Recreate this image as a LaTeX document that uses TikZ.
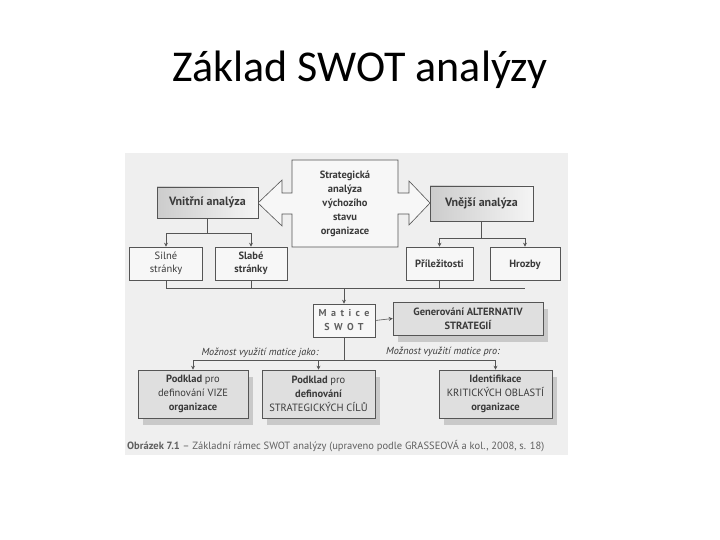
\documentclass[tikz,border=0pt]{standalone}
\usepackage{fontspec}
\setmainfont{PT Sans}
\newfontfamily\titlefont{Carlito}
\usetikzlibrary{arrows.meta,shadows}
\definecolor{scanbg}{HTML}{EFEFEF}
\definecolor{boxbg}{HTML}{F7F7F7}
\definecolor{ink}{HTML}{3A3A3A}
\definecolor{lines}{HTML}{555555}
\tikzset{
  box/.style={draw=lines, line width=0.6pt, fill=boxbg, inner sep=0pt, align=center, text=ink, font=\fontsize{10.5}{13}\selectfont},
  boldbox/.style={box, font=\bfseries\fontsize{10.5}{13}\selectfont},
  grad/.style={boldbox, left color=gray!40, right color=gray!8, font=\bfseries\fontsize{12}{14}\selectfont},
  shad/.style={box, fill=gray!25, drop shadow={shadow xshift=5pt, shadow yshift=-7pt, fill=gray!42, opacity=1}, font=\fontsize{10.5}{14}\selectfont},
  conn/.style={draw=lines, line width=0.6pt},
  arr/.style={conn, -{Stealth[length=4pt,width=4pt]}},
  lbl/.style={text=ink, font=\fontsize{10.2}{12}\selectfont\itshape, inner sep=0pt}
}
\begin{document}
\begin{tikzpicture}[x=1pt,y=-1pt]
\useasboundingbox (0,0) rectangle (720,540);
\node[font=\titlefont\fontsize{44}{50}\selectfont, anchor=base, inner sep=0pt] (title) at (360,82) {Základ SWOT analýzy};
\fill[scanbg] (125,153) rectangle (568,455);
% central double arrow shape
\draw[lines, line width=0.6pt, fill=boxbg] (292,160) -- (398,160) -- (398,193) -- (409,193) -- (409,181) -- (430,203) -- (409,225) -- (409,214) -- (398,214) -- (398,247) -- (292,247) -- (292,214) -- (282,214) -- (282,226) -- (258,203) -- (282,180) -- (282,193) -- (292,193) -- cycle;
\node[box, draw=none, fill=none, font=\bfseries\fontsize{10.5}{14}\selectfont] (strat) at (345,203.5) {Strategická\\analýza\\výchozího\\stavu\\organizace};
\node[grad, minimum width=101pt, minimum height=31pt] (vnitrni) at (207.5,202.5) {Vnitřní analýza};
\node[grad, minimum width=103pt, minimum height=35pt] (vnejsi) at (481.5,203.5) {Vnější analýza};
\node[box, minimum width=73pt, minimum height=33pt] (silne) at (166,263.5) {Silné\\stránky};
\node[boldbox, minimum width=72pt, minimum height=33pt] (slabe) at (251,263.5) {Slabé\\stránky};
\node[boldbox, minimum width=67pt, minimum height=33pt, text depth=0pt] (prilez) at (439.5,263.5) {Příležitosti};
\node[boldbox, minimum width=70pt, minimum height=33pt, text depth=0pt] (hrozby) at (525,263.5) {Hrozby};
\node[box, minimum width=62pt, minimum height=33pt, text=gray!75!black, font=\bfseries\addfontfeature{LetterSpace=45}\fontsize{10}{14}\selectfont] (matice) at (344,320.5) {Matice\\SWOT};
\node[shad, minimum width=150pt, minimum height=33pt, font=\bfseries\fontsize{10.5}{14}\selectfont] (gener) at (468,318.5) {Generování ALTERNATIV\\STRATEGIÍ};
\node[shad, minimum width=110pt, minimum height=48pt] (vize) at (193,394) {\textbf{Podklad} pro\\definování VIZE\\\textbf{organizace}};
\node[shad, minimum width=113pt, minimum height=48pt] (cile) at (318.5,394) {\textbf{Podklad} pro\\\textbf{definování}\\STRATEGICKÝCH CÍLŮ};
\node[shad, minimum width=113pt, minimum height=48pt] (ident) at (495.5,394) {\textbf{Identifikace}\\KRITICKÝCH OBLASTÍ\\\textbf{organizace}};
% labels
\node[lbl] (lab1) at (260,353) {Možnost využití matice jako:};
\node[lbl] (lab2) at (443,352) {Možnost využití matice pro:};
% caption
\node[anchor=base west, inner sep=0pt, text=gray!75!black, font=\fontsize{10.5}{12}\selectfont] (cap) at (127,449) {\textbf{Obrázek 7.1} – Základní rámec SWOT analýzy (upraveno podle GRASSEOVÁ a kol., 2008, s. 18)};
% connectors
\coordinate (j1) at (vnitrni.south |- 0,233);
\draw[conn] (vnitrni.south) -- (j1);
\draw[arr] (j1) -| (silne.north);
\draw[arr] (j1) -| (slabe.north);
\coordinate (j2) at (vnejsi.south |- 0,238);
\draw[conn] (vnejsi.south) -- (j2);
\draw[arr] (j2) -| (prilez.north);
\draw[arr] (j2) -| (hrozby.north);
\coordinate (b1) at (silne.south |- 0,288);
\coordinate (b2) at (hrozby.south |- 0,288);
\coordinate (bm) at (matice.north |- 0,288);
\draw[conn] (silne.south) -- (b1) -- (b2);
\draw[conn] (slabe.south) -- (slabe.south |- 0,288);
\draw[conn] (prilez.south) -- (prilez.south |- 0,288);
\draw[arr] (bm) -- (matice.north);
\draw[arr] (matice.east) -- (gener.west);
\coordinate (m1) at (matice.south |- 0,360);
\draw[conn] (matice.south) -- (m1);
\draw[arr] (m1) -| (vize.north);
\draw[arr] (m1) -| (ident.north);
\draw[arr] (cile.north |- 0,360) -- (cile.north);
\end{tikzpicture}
\end{document}
